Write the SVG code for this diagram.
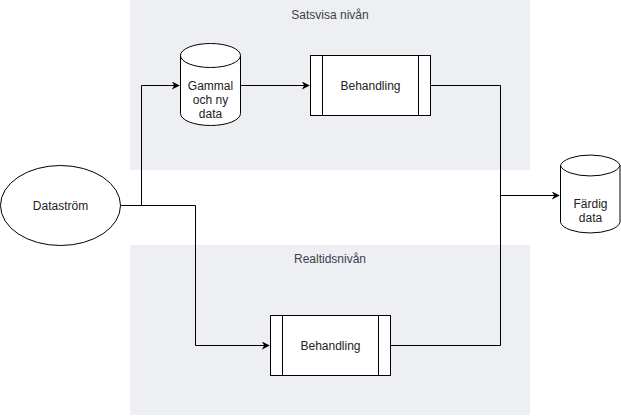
<svg xmlns="http://www.w3.org/2000/svg" width="621" height="416" viewBox="0 0 621 416">
<defs>
<style>
.lane{fill:#eeeff3;stroke:none}
.lt{font-family:"Liberation Sans",Arial,sans-serif;font-size:12px;fill:#3b3f4a;text-anchor:middle}
.t{font-family:"Liberation Sans",Arial,sans-serif;font-size:12px;fill:#222;text-anchor:middle}
.s{fill:#fff;stroke:#000;stroke-width:1}
.c{fill:none;stroke:#000;stroke-width:1}
</style>
<marker id="ah" viewBox="0 0 10 10" refX="9" refY="5" markerWidth="8" markerHeight="8" markerUnits="userSpaceOnUse" orient="auto">
<path d="M0,0 L10,5 L0,10 L3,5 Z" fill="#000"/>
</marker>
</defs>
<rect width="621" height="416" fill="#fff"/>
<g id="lane-batch">
<rect class="lane" x="130" y="0" width="400" height="170"/>
<text class="lt" x="330" y="19">Satsvisa nivån</text>
</g>
<g id="lane-realtime">
<rect class="lane" x="130" y="245" width="400" height="170"/>
<text class="lt" x="330" y="263">Realtidsnivån</text>
</g>
<g id="connectors">
<path class="c" d="M120.5,205.5 H141.5 V85.5 H179" marker-end="url(#ah)"/>
<path class="c" d="M240.5,85.5 H309" marker-end="url(#ah)"/>
<path class="c" d="M120.5,205.5 H195.5 V345.5 H269" marker-end="url(#ah)"/>
<path class="c" d="M430.5,85.5 H500.5 V195.5 H559" marker-end="url(#ah)"/>
<path class="c" d="M390.5,345.5 H500.5 V195.5"/>
</g>
<g id="datastrom">
<ellipse class="s" cx="60.5" cy="205.5" rx="60" ry="40"/>
<text class="t" x="60.5" y="209.5">Dataström</text>
</g>
<g id="gammal">
<path class="s" d="M180.5,55.5 A30,12 0 0 1 240.5,55.5 V113.5 A30,12 0 0 1 180.5,113.5 Z"/>
<path class="c" d="M180.5,55.5 A30,12 0 0 0 240.5,55.5"/>
<text class="t" x="210.5" y="89.5">Gammal</text>
<text class="t" x="210.5" y="104">och ny</text>
<text class="t" x="210.5" y="118">data</text>
</g>
<g id="behandling1">
<rect class="s" x="310.5" y="55.5" width="120" height="60"/>
<path class="c" d="M322.5,55.5 V115.5 M418.5,55.5 V115.5"/>
<text class="t" x="370.5" y="89.5">Behandling</text>
</g>
<g id="behandling2">
<rect class="s" x="270.5" y="315.5" width="120" height="60"/>
<path class="c" d="M282.5,315.5 V375.5 M378.5,315.5 V375.5"/>
<text class="t" x="330.5" y="349.5">Behandling</text>
</g>
<g id="fardig">
<path class="s" d="M560.5,165.5 A30,12 0 0 1 620,165.5 V222.5 A30,12 0 0 1 560.5,222.5 Z"/>
<path class="c" d="M560.5,165.5 A30,12 0 0 0 620,165.5"/>
<text class="t" x="590.5" y="207.5">Färdig</text>
<text class="t" x="590.5" y="221.5">data</text>
</g>
</svg>
